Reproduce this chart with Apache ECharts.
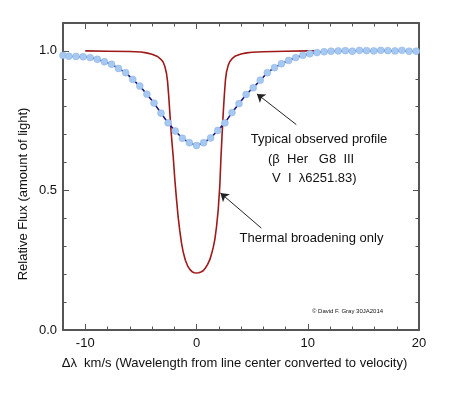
<!DOCTYPE html>
<html><head><meta charset="utf-8">
<script src="https://cdn.jsdelivr.net/npm/echarts@6/dist/echarts.min.js"></script>
<style>html,body{margin:0;padding:0;background:#fff}#c{width:449px;height:393px}</style>
</head><body><div id="c"></div>
<script>
// Observed profile (beta Her, V I 6251.83) - velocity (km/s) and relative flux
const observedX = [-12.0,-11.47,-10.83,-10.19,-9.56,-8.92,-8.28,-7.64,-7.01,-6.37,-5.73,-5.10,-4.46,-3.82,-3.19,-2.55,-1.91,-1.27,-0.64,0,
  0.64,1.27,1.91,2.55,3.19,3.82,4.46,5.10,5.73,6.37,7.01,7.64,8.28,8.92,9.56,10.19,10.83,11.47,12.10,12.74,
  13.38,14.01,14.65,15.29,15.93,16.56,17.20,17.84,18.47,19.11,19.75];
const observedFlux = [0.984,0.981,0.980,0.979,0.976,0.970,0.961,0.952,0.937,0.922,0.898,0.874,0.845,0.813,0.777,0.742,0.713,0.687,0.671,0.661,
  0.671,0.688,0.715,0.742,0.779,0.811,0.844,0.868,0.895,0.922,0.940,0.954,0.966,0.976,0.984,0.990,0.994,0.997,0.999,1.000,
  1.001,0.999,1.002,1.001,1.000,1.002,1.001,1.000,1.002,0.999,0.999];
// Thermal broadening only profile
const thermalX = [-10,-8,-6,-5,-4.5,-4,-3.5,-3.2,-3.0,-2.85,-2.7,-2.6,-2.5,-2.4,-2.3,-2.2,-2.1,-1.95,-1.8,-1.65,-1.5,-1.35,-1.2,-1.0,-0.8,-0.6,-0.4,-0.2,0,
  0.2,0.4,0.6,0.8,1.0,1.2,1.35,1.5,1.65,1.8,1.95,2.1,2.2,2.3,2.4,2.5,2.6,2.7,2.85,3.0,3.2,3.5,4,4.5,5,6,8,10,11];
const thermalFlux = [1.000,0.999,0.998,0.996,0.993,0.988,0.980,0.970,0.960,0.945,0.920,0.890,0.840,0.780,0.720,0.670,0.625,0.540,0.470,0.405,0.355,0.312,0.280,0.250,0.230,0.217,0.209,0.205,0.204,
  0.205,0.208,0.212,0.222,0.235,0.252,0.272,0.295,0.325,0.370,0.430,0.520,0.620,0.700,0.775,0.840,0.895,0.925,0.948,0.962,0.972,0.982,0.989,0.993,0.995,0.997,0.999,1.000,1.000];
// Ticks
const xMajorTicks = [-10,0,10,20];
const xMinorTicks = [-12,-10,-8,-6,-4,-2,0,2,4,6,8,10,12,14,16,18,20];
const yLabelTicks = [0,0.5,1.0];
const yMinorTicks = [0,0.1,0.2,0.3,0.4,0.5,0.6,0.7,0.8,0.9,1.0];
// Annotation arrows (data coordinates: tail -> head)
const arrowObserved = [[8.97,0.736],[5.43,0.846]];
const arrowThermal = [[5.83,0.365],[2.15,0.491]];

const FONT = '"Liberation Sans", Arial, Helvetica, sans-serif';
const FRAME = '#555';

function xAx(pos, major, labels){
  return {type:'value', min:-12, max:20, position:pos, gridIndex:0,
    axisLine:{show:major, onZero:false, lineStyle:{color:FRAME,width:2}},
    axisTick:{show:true, inside:true, length: major?6:3.5, customValues: major?xMajorTicks:xMinorTicks, lineStyle:{color:FRAME,width:1}},
    axisLabel:{show:labels, customValues:xMajorTicks, margin:7, color:'#111', fontFamily:FONT, fontSize:13},
    splitLine:{show:false}};
}
function yAx(pos, major, labels){
  return {type:'value', min:0, max:1.1, position:pos, gridIndex:0,
    axisLine:{show:major, onZero:false, lineStyle:{color:FRAME,width:2}},
    axisTick:{show:true, inside:true, length: major?6:3.5, customValues: major?yLabelTicks:yMinorTicks, lineStyle:{color:FRAME,width:1}},
    axisLabel:{show:labels, customValues:yLabelTicks, margin:6, color:'#111', fontFamily:FONT, fontSize:13, formatter:v=>v.toFixed(1)},
    splitLine:{show:false}};
}

const chart = echarts.init(document.getElementById('c'), null, {renderer:'canvas'});
const txt = (s, x, y, align, size, extra) => Object.assign({type:'text', x:x, y:y, style:{text:s, fill:'#111', font: size+'px '+FONT, textAlign:align, textVerticalAlign:'middle'}}, extra||{});
chart.setOption({
  animation:false,
  backgroundColor:'#fff',
  grid:{left:63, right:30, top:23, bottom:63, outerBoundsMode:'none'},
  xAxis:[xAx('bottom',true,true), xAx('bottom',false,false), xAx('top',true,false), xAx('top',false,false)],
  yAxis:[yAx('left',true,true), yAx('left',false,false), yAx('right',true,false), yAx('right',false,false)],
  series:[
    {type:'line', name:'Thermal broadening only', xAxisIndex:0, yAxisIndex:0,
     data: thermalX.map((x,i)=>[x, thermalFlux[i]]), showSymbol:false, symbol:'none',
     lineStyle:{color:'#9e1a1a', width:1.6}, z:2,
     markLine:{silent:true, symbol:['none','arrow'], symbolSize:8,
       lineStyle:{color:'#222', width:1, type:'solid'}, label:{show:false},
       itemStyle:{color:'#111'},
       data:[
         [{coord:arrowObserved[0]},{coord:arrowObserved[1]}],
         [{coord:arrowThermal[0]},{coord:arrowThermal[1]}]
       ]}},
    {type:'line', name:'Typical observed profile', xAxisIndex:0, yAxisIndex:0, clip:false,
     data: observedX.map((x,i)=>[x, observedFlux[i]]), symbol:'circle', symbolSize:6.9, showSymbol:true,
     lineStyle:{color:'#14147f', width:1.6},
     itemStyle:{color:'#a5c9f3', borderColor:'#8fb1dc', borderWidth:0.5}, z:3}
  ],
  graphic:[
    txt('Relative Flux (amount of light)', 23, 194, 'center', 13, {rotation:Math.PI/2}),
    txt('\u0394\u03bb  km/s (Wavelength from line center converted to velocity)', 234.5, 363, 'center', 13),
    txt('Typical observed profile', 319, 139.5, 'center', 13),
    txt('(\u03b2  Her   G8  III', 268, 159, 'left', 13),
    txt('V  I  \u03bb6251.83)', 272, 178, 'left', 13),
    txt('Thermal broadening only', 311.5, 238, 'center', 13),
    txt('\u00a9 David F. Gray 30JA2014', 312, 311, 'left', 6)
  ]
});
</script></body></html>
